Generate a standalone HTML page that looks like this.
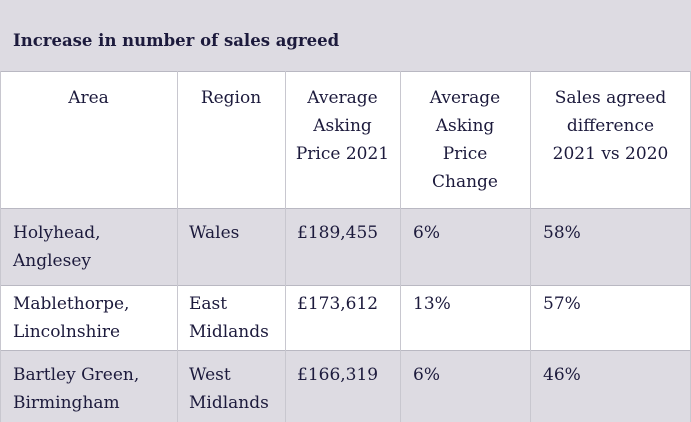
<!DOCTYPE html>
<html><head><style>
*{margin:0;padding:0;box-sizing:border-box}
body{width:691px;height:422px;overflow:hidden;background:#fff;font-family:"DejaVu Serif","Liberation Serif",serif;color:#1c1a3c;position:relative}
.bg{position:absolute;left:0;width:691px}
.t{position:absolute;font-size:17px;line-height:28px;white-space:nowrap}
.c{text-align:center}
.v{position:absolute;width:1px;background:#c8c7cf}
.h{position:absolute;left:0;width:691px;height:1px;background:#b9b8c2}
</style></head><body>
<div class="bg" style="top:0;height:71px;background:#dddbe2"></div>
<div class="bg" style="top:208px;height:77px;background:#dddbe2"></div>
<div class="bg" style="top:350px;height:72px;background:#dddbe2"></div>
<div class="h" style="top:71px"></div>
<div class="h" style="top:208px"></div>
<div class="h" style="top:285px"></div>
<div class="h" style="top:350px"></div>
<div class="v" style="left:0;top:71px;height:351px"></div>
<div class="v" style="left:177px;top:71px;height:351px"></div>
<div class="v" style="left:285px;top:71px;height:351px"></div>
<div class="v" style="left:400px;top:71px;height:351px"></div>
<div class="v" style="left:530px;top:71px;height:351px"></div>
<div class="v" style="left:690px;top:71px;height:351px"></div>
<div class="t" style="left:13px;top:27px;font-weight:bold;font-size:16.5px">Increase in number of sales agreed</div>
<div class="t c" style="left:0;width:177px;top:84px">Area</div>
<div class="t c" style="left:177px;width:108px;top:84px">Region</div>
<div class="t c" style="left:285px;width:115px;top:84px">Average<br>Asking<br>Price 2021</div>
<div class="t c" style="left:400px;width:130px;top:84px">Average<br>Asking<br>Price<br>Change</div>
<div class="t c" style="left:530px;width:161px;top:84px">Sales agreed<br>difference<br>2021 vs 2020</div>
<div class="t" style="left:13px;top:219px">Holyhead,<br>Anglesey</div>
<div class="t" style="left:189px;top:219px">Wales</div>
<div class="t" style="left:297px;top:219px">£189,455</div>
<div class="t" style="left:413px;top:219px">6%</div>
<div class="t" style="left:543px;top:219px">58%</div>
<div class="t" style="left:13px;top:290px">Mablethorpe,<br>Lincolnshire</div>
<div class="t" style="left:189px;top:290px">East<br>Midlands</div>
<div class="t" style="left:297px;top:290px">£173,612</div>
<div class="t" style="left:413px;top:290px">13%</div>
<div class="t" style="left:543px;top:290px">57%</div>
<div class="t" style="left:13px;top:361px">Bartley Green,<br>Birmingham</div>
<div class="t" style="left:189px;top:361px">West<br>Midlands</div>
<div class="t" style="left:297px;top:361px">£166,319</div>
<div class="t" style="left:413px;top:361px">6%</div>
<div class="t" style="left:543px;top:361px">46%</div>
</body></html>
